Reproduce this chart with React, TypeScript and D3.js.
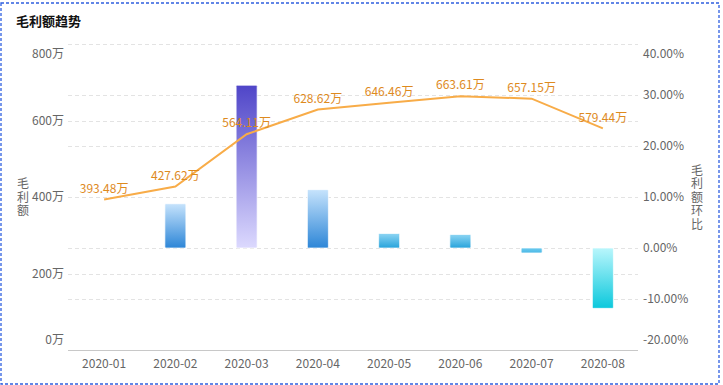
import React from 'react';
import * as d3 from 'd3';

const months = ['2020-01', '2020-02', '2020-03', '2020-04', '2020-05', '2020-06', '2020-07', '2020-08'];
const grossProfit = [393.48, 427.62, 564.11, 628.62, 646.46, 663.61, 657.15, 579.44];
const momRate: (number | null)[] = [null, 8.68, 31.91, 11.44, 2.84, 2.65, -0.97, -11.83];
const leftTicks = [0, 200, 400, 600, 800];
const rightTicks = [-20, -10, 0, 10, 20, 30, 40];

const W = 723;
const H = 385;
const FONT = '"Noto Sans CJK SC", "Noto Sans", sans-serif';

const barPalette: [string, string][] = [
  ['#c6e3fc', '#2d86d7'],
  ['#c6e3fc', '#2d86d7'],
  ['#4f45c8', '#dcd9fe'],
  ['#c6e3fc', '#2d86d7'],
  ['#8dd5f3', '#27a3db'],
  ['#8dd5f3', '#27a3db'],
  ['#6ccbef', '#4bb8e6'],
  ['#b9f6fc', '#0bc8dc'],
];

export default function App() {
  const x = d3.scaleBand<string>().domain(months).range([68.5, 638.5]);
  const yL = d3.scaleLinear().domain([0, 800]).range([350, 44]);
  const yR = d3.scaleLinear().domain([-20, 40]).range([350, 44]);
  const cx = (m: string) => (x(m) as number) + x.bandwidth() / 2;
  const barW = 21;

  const line = d3
    .line<number>()
    .x((_, i) => cx(months[i]))
    .y((d) => yL(d));

  const gridYs = Array.from(
    new Set([...leftTicks.map((t) => Math.round(yL(t))), ...rightTicks.map((t) => Math.round(yR(t)))])
  ).filter((y) => y !== 350);

  const labelY = (y: number, i: number, n: number) => (i === n - 1 ? y + 10 : i === 0 ? y - 10 : y);

  const vStyle: React.CSSProperties = { writingMode: 'vertical-rl' as any, letterSpacing: '1.5px' };

  return (
    <svg
      width={W}
      height={H}
      style={{ position: 'absolute', left: 0, top: 0, fontFamily: FONT }}
    >
      <defs>
        {barPalette.map((c, i) => (
          <linearGradient key={i} id={`bar${i}`} x1="0" y1="0" x2="0" y2="1">
            <stop offset="0%" stopColor={c[0]} />
            <stop offset="100%" stopColor={c[1]} />
          </linearGradient>
        ))}
      </defs>
      <rect x={1} y={3} width={718} height={381} fill="#fff" stroke="#2f5fe0" strokeWidth={1.3} strokeDasharray="3,2" />
      <text x={16} y={26} fontSize={13} fontWeight="bold" fill="#111">毛利额趋势</text>

      {gridYs.map((y) => (
        <line key={y} x1={68} x2={638} y1={y + 0.5} y2={y + 0.5} stroke="#e3e3e3" strokeDasharray="4,3" />
      ))}
      <line x1={68} x2={638} y1={350.5} y2={350.5} stroke="#c8c8c8" />

      {leftTicks.map((t, i) => (
        <text key={t} x={64} y={labelY(yL(t), i, leftTicks.length)} dy="0.35em" textAnchor="end" fontSize={12} fill="#666">
          {t}万
        </text>
      ))}
      {rightTicks.map((t, i) => (
        <text key={t} x={643} y={labelY(yR(t), i, rightTicks.length)} dy="0.35em" textAnchor="start" fontSize={12} fill="#666">
          {t.toFixed(2)}%
        </text>
      ))}
      {months.map((m) => (
        <text key={m} x={cx(m)} y={364} dy="0.35em" textAnchor="middle" fontSize={12} fill="#666">
          {m}
        </text>
      ))}

      <text x={23} y={198} textAnchor="middle" fontSize={12} fill="#666" style={vStyle}>毛利额</text>
      <text x={697} y={198} textAnchor="middle" fontSize={12} fill="#666" style={vStyle}>毛利额环比</text>

      {momRate.map((v, i) => {
        if (v === null) return null;
        const y0 = yR(0);
        const y1 = yR(v);
        const top = Math.min(y0, y1);
        const h = Math.max(Math.abs(y1 - y0), 3);
        return (
          <rect
            key={i}
            x={cx(months[i]) - barW / 2}
            y={top}
            width={barW}
            height={h}
            rx={1}
            fill={`url(#bar${i})`}
            stroke="rgba(255,255,255,0.7)"
            strokeWidth={1}
          />
        );
      })}

      <path d={line(grossProfit) as string} fill="none" stroke="#f8ac48" strokeWidth={2} />
      {grossProfit.map((v, i) => (
        <text key={i} x={cx(months[i])} y={yL(v) - 11} dy="0.35em" textAnchor="middle" fontSize={12} fill="#de8a1e">
          {v.toFixed(2)}万
        </text>
      ))}
    </svg>
  );
}
